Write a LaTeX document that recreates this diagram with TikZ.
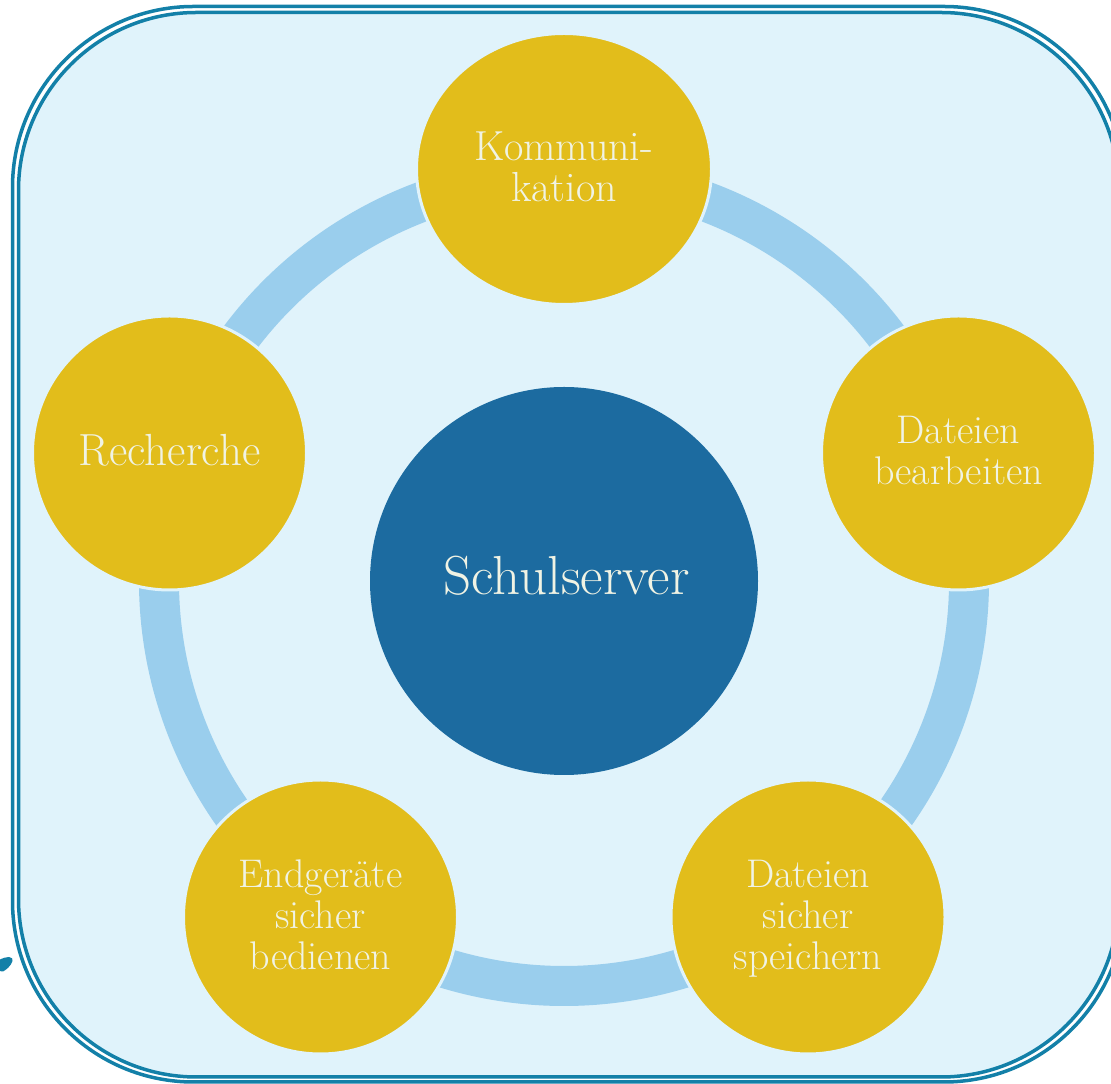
\documentclass[tikz,border=0pt]{standalone}
\usetikzlibrary{shapes.geometric}
\definecolor{paper}{HTML}{E0F3FB}
\definecolor{frameblue}{HTML}{1380A8}
\definecolor{gold}{HTML}{E2BD1B}
\definecolor{hubblue}{HTML}{1C6BA0}
\definecolor{ringblue}{HTML}{9ACEED}
\definecolor{txt}{HTML}{F0F3E4}
\newcommand{\lowerby}[1]{\rule{0pt}{\dimexpr28.7pt+#1\relax}}
\tikzset{
  x=1pt,y=1pt,
  frameline/.style={draw=frameblue,line width=3.5pt,rounded corners=#1},
  band/.style={draw=ringblue,line width=40pt,line cap=butt},
  sat/.style={circle,fill=gold,draw=paper,line width=3pt,minimum size=274pt,inner sep=0pt,align=center,text=txt,font=\fontsize{40}{41}\selectfont},
  satell/.style={sat,ellipse,minimum width=295pt,minimum height=271pt},
  hubnode/.style={circle,fill=hubblue,minimum size=388pt,inner sep=0pt,text=txt,font=\fontsize{55}{60}\selectfont}
}
\begin{document}
\begin{tikzpicture}
\useasboundingbox (0,0) rectangle (1111,1084);
\clip (0,0) rectangle (1111,1084);
\draw[frameline=181pt] (12.5,2) rectangle (1125,1077.5);
\draw[frameline=178pt,fill=paper] (18.5,7) rectangle (1119,1071.5);
\fill[frameblue] (-1,124) .. controls (3,126) and (6,127) .. (9,127) .. controls (12,127) and (13,125) .. (12.5,123) .. controls (11,118) and (6,114) .. (3,112.5) -- (-1,113) -- cycle;
\coordinate (ringc) at (564,503);
\draw[band] ([shift={(90:405pt)}]ringc) arc[start angle=90,end angle=18,radius=405pt];
\draw[band] ([shift={(18:405pt)}]ringc) arc[start angle=18,end angle=-54,radius=405pt];
\draw[band] ([shift={(-54:405pt)}]ringc) arc[start angle=-54,end angle=-126,radius=405pt];
\draw[band] ([shift={(-126:405pt)}]ringc) arc[start angle=-126,end angle=-198,radius=405pt];
\draw[band] ([shift={(162:405pt)}]ringc) arc[start angle=162,end angle=90,radius=405pt];
\node[hubnode] (hub) at (564,503) {\hspace{5pt}\rule[-11pt]{0pt}{11pt}Schulserver};
\node[satell,font=\fontsize{42}{41}\selectfont] (komm) at (564,915) {\lowerby{8pt}Kommuni-\\\strut kation};
\node[sat] (datb) at (958.5,631) {\lowerby{6pt}Dateien\\\strut bearbeiten};
\node[sat] (dats) at (808,167) {\lowerby{6pt}Dateien\\\strut sicher\\\strut speichern};
\node[sat] (endg) at (320.5,167) {\lowerby{6pt}Endgeräte\\\strut sicher\\\strut bedienen};
\node[sat,font=\fontsize{45}{41}\selectfont] (rech) at (169.5,631) {\rule[-7pt]{0pt}{7pt}Recherche};
\end{tikzpicture}
\end{document}
